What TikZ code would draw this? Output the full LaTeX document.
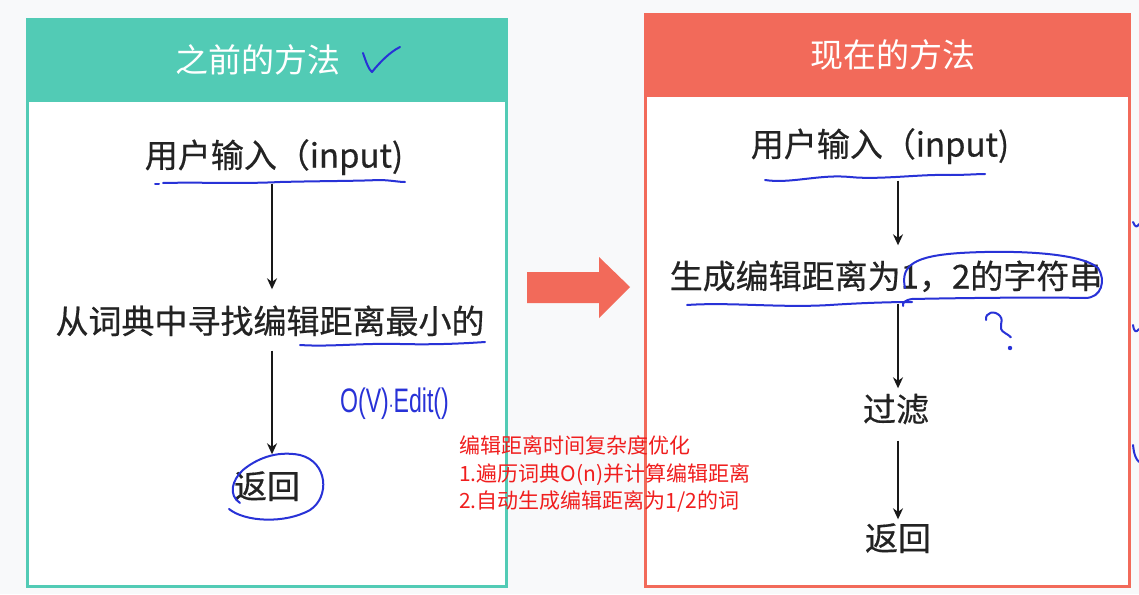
\documentclass[tikz,border=0pt]{standalone}
\usepackage{fontspec}
\setmainfont{Liberation Sans}
\newfontfamily\cjk{Noto Sans CJK SC}
\newfontfamily\cjkdark{Noto Sans CJK SC}[FakeBold=0.5]
\usetikzlibrary{arrows.meta,calc}
\definecolor{pagebg}{RGB}{248,249,250}
\definecolor{oldgreen}{RGB}{82,203,181}
\definecolor{newred}{RGB}{242,106,90}
\definecolor{ink}{RGB}{40,50,215}
\definecolor{notered}{RGB}{240,30,30}
\definecolor{textgray}{RGB}{35,35,35}
\tikzset{
  panel/.style={line width=3pt, fill=white},
  title/.style={font=\cjk\fontsize{33}{38}\selectfont, text=white, inner sep=0pt},
  stepbox/.style={font=\cjkdark\fontsize{33}{38}\selectfont, text=textgray, inner sep=0pt,
    text height=27pt, text depth=6pt},
  flow/.style={line width=2.8pt, draw=black!90, -{Stealth[length=11pt,width=10pt]}},
  pen/.style={draw=ink, line width=2pt, line cap=round, line join=round},
  note/.style={font=\cjk\fontsize{21}{27.5}\selectfont, text=notered, align=left,
    inner sep=0pt, anchor=north west}
}
\begin{document}
\begin{tikzpicture}[x=1pt,y=-1pt]
\useasboundingbox (0,0) rectangle (1139,594);
\fill[pagebg] (0,0) rectangle (1139,594);

% ---------- left panel: previous method ----------
\draw[panel, draw=oldgreen] (27,20) rectangle (506,586);
\fill[oldgreen] (27,20) rectangle (506,102);
\node[title] (ltitle) at (258,60) {之前的方法};
\draw[pen] (363,53) .. controls (366,62) and (369,70) .. (372,72)
           .. controls (380,62) and (390,52) .. (400,47);

\node[stepbox] (l1) at (274,157) {用户输入（input)};
\node[stepbox] (l2) at (270,323) {从词典中寻找编辑距离最小的};
\node[stepbox] (l3) at (267,488) {返回};

\draw[flow, shorten <=10pt, shorten >=17pt] (l1.south -| 272,0) -- (l2.north -| 272,0);
\draw[flow, shorten <=11pt, shorten >=17pt] (l2.south -| 272,0) -- (l3.north -| 272,0);

% pen marks on the left panel
\draw[pen] (155,184) -- (159,184);
\draw[pen] (163,183) .. controls (200,182) and (240,184) .. (280,182)
           .. controls (320,181) and (360,181) .. (378,180)
           .. controls (390,180) and (398,182) .. (405,182);
\draw[pen] (300,345) .. controls (330,347) and (360,343) .. (400,344)
           .. controls (440,345) and (470,343) .. (485,342);
\draw[pen] (229,509) .. controls (245,522) and (285,524) .. (310,510)
           .. controls (330,497) and (328,462) .. (300,455)
           .. controls (275,450) and (255,460) .. (243,470)
           .. controls (232,480) and (228,495) .. (240,503);
\node[font=\fontsize{34}{38}\selectfont, text=ink, inner sep=0pt, anchor=west,
      xscale=0.68] (cost) at (340,404) {O(V)$\cdot$Edit()};

% ---------- arrow between the panels ----------
\fill[newred] (527,272) -- (599,272) -- (599,257) -- (630,287)
              -- (599,318) -- (599,303) -- (527,303) -- cycle;

% ---------- right panel: current method ----------
\draw[panel, draw=newred] (645,15) rectangle (1129,586);
\fill[newred] (645,15) rectangle (1129,97);
\node[title] (rtitle) at (893,55) {现在的方法};

\node[stepbox] (r1) at (880,146) {用户输入（input)};
\node[stepbox] (r2) at (886,278) {生成编辑距离为1，2的字符串};
\node[stepbox] (r3) at (896,411) {过滤};
\node[stepbox] (r4) at (898,540) {返回};

\draw[flow, shorten <=18pt, shorten >=16pt] (r1.south -| 898,0) -- (r2.north -| 898,0);
\draw[flow, shorten <=9pt, shorten >=6pt] (r2.south -| 898,0) -- (r3.north -| 898,0);
\draw[flow, shorten <=13pt, shorten >=4pt] (r3.south -| 898,0) -- (r4.north -| 898,0);

% pen marks on the right panel
\draw[pen] (765,180) .. controls (790,184) and (820,174) .. (850,177)
           .. controls (880,180) and (920,174) .. (950,175)
           .. controls (965,175) and (978,174) .. (985,174);
\draw[pen] (687,305) .. controls (730,302) and (780,308) .. (830,305)
           .. controls (860,303) and (890,302) .. (912,302);
\draw[pen] (905,288) .. controls (900,265) and (915,256) .. (960,253)
           .. controls (1010,250) and (1080,252) .. (1098,268)
           .. controls (1106,280) and (1102,298) .. (1085,298)
           .. controls (1040,297) and (960,298) .. (912,299)
           .. controls (905,300) and (902,303) .. (903,306);
\draw[pen] (986,320) .. controls (985,312) and (995,310) .. (1000,316)
           .. controls (1005,322) and (996,328) .. (1005,333)
           .. controls (1010,336) and (1012,338) .. (1010,337);
\fill[ink] (1010,348) circle (2.2pt);
\draw[pen] (1133,222) .. controls (1135,227) and (1137,228) .. (1139,224);
\draw[pen] (1133,325) .. controls (1134,332) and (1136,333) .. (1139,329);
\draw[pen] (1133,445) .. controls (1134,455) and (1136,459) .. (1139,462);

% ---------- note ----------
\node[note] (memo) at (459,436) {编辑距离时间复杂度优化\\
1.遍历词典O(n)并计算编辑距离\\
2.自动生成编辑距离为1/2的词};
\end{tikzpicture}
\end{document}
